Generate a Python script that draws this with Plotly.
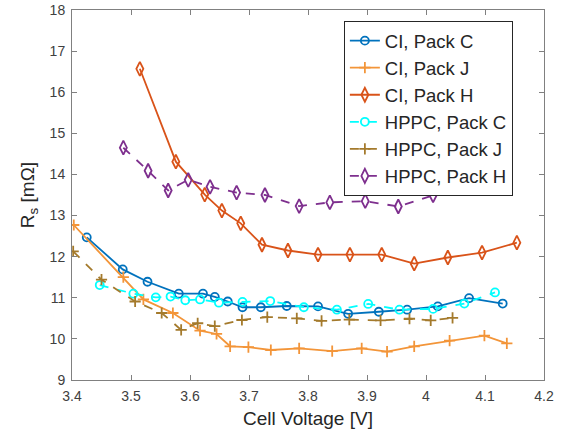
import plotly.graph_objects as go

# CI, Pack C
ci_c_v = [3.425, 3.486, 3.528, 3.581, 3.622, 3.642, 3.664, 3.689, 3.720, 3.764, 3.817, 3.868, 3.920, 3.968, 4.020, 4.073, 4.130]
ci_c_r = [12.47, 11.69, 11.39, 11.10, 11.10, 11.02, 10.91, 10.77, 10.77, 10.80, 10.79, 10.61, 10.66, 10.71, 10.79, 10.99, 10.86]
# CI, Pack J
ci_j_v = [3.403, 3.487, 3.521, 3.571, 3.617, 3.645, 3.668, 3.699, 3.737, 3.785, 3.841, 3.891, 3.934, 3.980, 4.040, 4.099, 4.137]
ci_j_r = [12.77, 11.50, 10.96, 10.63, 10.20, 10.12, 9.82, 9.80, 9.73, 9.77, 9.70, 9.77, 9.69, 9.82, 9.96, 10.08, 9.89]
# CI, Pack H
ci_h_v = [3.515, 3.576, 3.625, 3.654, 3.686, 3.722, 3.766, 3.817, 3.871, 3.925, 3.980, 4.037, 4.095, 4.154]
ci_h_r = [16.57, 14.31, 13.51, 13.12, 12.81, 12.29, 12.15, 12.05, 12.05, 12.05, 11.83, 11.98, 12.10, 12.34]
# HPPC, Pack C
hp_c_v = [3.447, 3.504, 3.542, 3.567, 3.592, 3.617, 3.649, 3.689, 3.736, 3.793, 3.849, 3.902, 3.955, 4.012, 4.065, 4.117]
hp_c_r = [11.31, 11.10, 11.01, 11.03, 10.94, 10.96, 10.88, 10.90, 10.92, 10.77, 10.71, 10.85, 10.71, 10.73, 10.86, 11.13]
# HPPC, Pack J
hp_j_v = [3.402, 3.450, 3.507, 3.552, 3.585, 3.613, 3.642, 3.688, 3.731, 3.781, 3.823, 3.870, 3.923, 3.972, 4.008, 4.045]
hp_j_r = [12.13, 11.44, 10.91, 10.63, 10.22, 10.38, 10.31, 10.46, 10.53, 10.50, 10.44, 10.47, 10.45, 10.49, 10.45, 10.51]
# HPPC, Pack H
hp_h_v = [3.487, 3.529, 3.563, 3.597, 3.634, 3.679, 3.727, 3.785, 3.837, 3.897, 3.953, 4.012, 4.071]
hp_h_r = [14.65, 14.09, 13.61, 13.87, 13.70, 13.56, 13.50, 13.23, 13.32, 13.35, 13.22, 13.49, 13.66]

x_ticks = [3.4, 3.5, 3.6, 3.7, 3.8, 3.9, 4.0, 4.1, 4.2]
x_tick_labels = ["3.4", "3.5", "3.6", "3.7", "3.8", "3.9", "4", "4.1", "4.2"]
y_ticks = [9, 10, 11, 12, 13, 14, 15, 16, 17, 18]

series = [
    ("CI, Pack C", ci_c_v, ci_c_r, "#0072BD", "solid", "circle-open", 8),
    ("CI, Pack J", ci_j_v, ci_j_r, "#F39539", "solid", "cross-thin-open", 8),
    ("CI, Pack H", ci_h_v, ci_h_r, "#D95319", "solid", "diamond-tall-open", 10),
    ("HPPC, Pack C", hp_c_v, hp_c_r, "#00FFFF", "dash", "circle-open", 8),
    ("HPPC, Pack J", hp_j_v, hp_j_r, "#A47A2C", "dash", "cross-thin-open", 8),
    ("HPPC, Pack H", hp_h_v, hp_h_r, "#7E2F8E", "dash", "diamond-tall-open", 10),
]

FONT = "Liberation Sans, Arial"

fig = go.Figure()
for i, (name, xv, yv, col, dash, sym, ms) in enumerate(series):
    fig.add_trace(go.Scatter(
        x=xv, y=yv, name=name, mode="lines+markers",
        line=dict(color=col, width=1.8, dash=dash),
        marker=dict(symbol=sym, size=ms, color=col, line=dict(color=col, width=1.8)),
    ))

axis_common = dict(
    showgrid=False, zeroline=False, showline=True, linecolor="#808080", linewidth=1,
    mirror="allticks", ticks="inside", ticklen=5, tickcolor="#808080",
    tickfont=dict(family=FONT, size=14, color="#404040"),
    automargin=False,
)

fig.update_layout(
    width=568, height=436,
    margin=dict(l=72, r=24, t=10, b=56, autoexpand=False),
    paper_bgcolor="white", plot_bgcolor="white",
    font=dict(family=FONT, color="#262626"),
    xaxis=dict(range=[3.4, 4.2], tickvals=x_ticks, ticktext=x_tick_labels,
               ticklabelstandoff=3,
               title=dict(text="Cell Voltage [V]", font=dict(size=19, color="#262626"), standoff=8),
               **axis_common),
    yaxis=dict(range=[9, 18], tickvals=y_ticks, ticklabelstandoff=3,
               title=dict(text="R<sub>s</sub> [mΩ]", font=dict(size=19, color="#262626"), standoff=9),
               **axis_common),
    legend=dict(x=0.576, y=0.97, xanchor="left", yanchor="top",
                bgcolor="white", bordercolor="#262626", borderwidth=1,
                font=dict(family=FONT, size=18.5, color="#262626"),
                entrywidth=140, entrywidthmode="pixels",
                traceorder="normal"),
    showlegend=True,
)

fig.write_html(
    "out.html",
    config={"displayModeBar": False},
    post_script="document.body.style.margin='0';document.body.style.overflow='hidden';",
)
